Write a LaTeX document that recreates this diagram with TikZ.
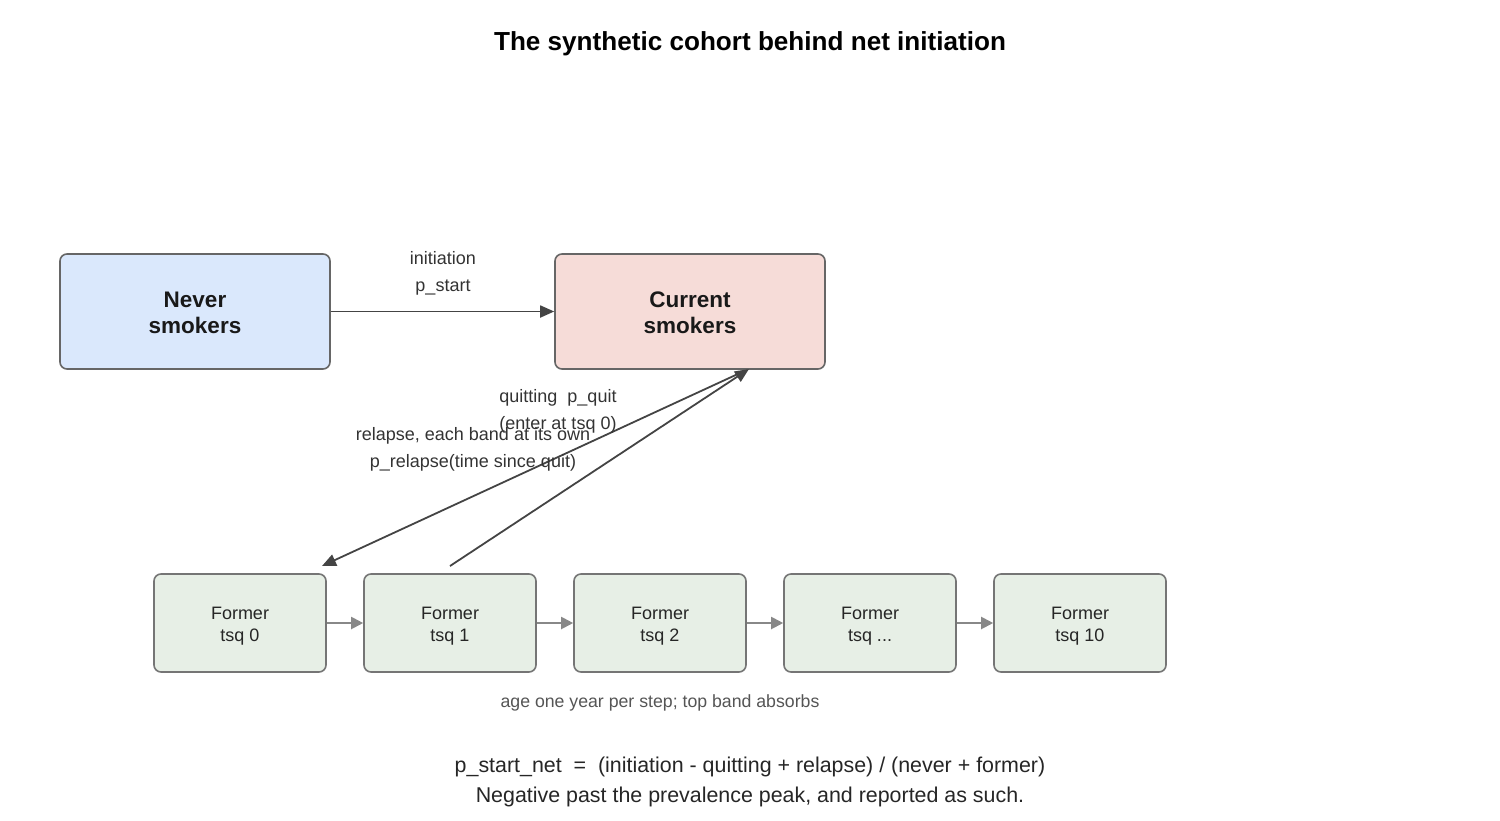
\documentclass[tikz,border=0pt]{standalone}
\usepackage{fontspec}
\setmainfont{Liberation Sans}
\usetikzlibrary{arrows.meta,positioning}

\definecolor{neverfill}{HTML}{DAE8FC}
\definecolor{curfill}{HTML}{F6DCD8}
\definecolor{formfill}{HTML}{E7EFE6}
\definecolor{boxline}{HTML}{666666}
\definecolor{linkdark}{HTML}{444444}
\definecolor{linkgray}{HTML}{888888}
\definecolor{txtdark}{HTML}{333333}
\definecolor{capgray}{HTML}{555555}

\newcommand{\pxsize}[2]{\fontsize{#1}{#2}\selectfont}

\tikzset{
	statebox/.style={draw=boxline, line width=1.6pt, rounded corners=7pt, minimum width=270pt, minimum height=115pt, align=center, font=\pxsize{22.5}{26}\bfseries, text=black!90},
	formerbox/.style={draw=boxline!90, line width=1.6pt, rounded corners=7pt, fill=formfill, minimum width=172pt, minimum height=98pt, align=center, font=\pxsize{18}{22}, text=black!85},
	flow/.style={draw=linkdark, line width=1.8pt, -{Triangle[length=14pt,width=12pt]}},
	agestep/.style={draw=linkgray, line width=2pt, -{Triangle[length=12pt,width=12pt]}},
	lbl/.style={align=center, font=\pxsize{18}{27}, text=txtdark}
}

\begin{document}
\begin{tikzpicture}[x=1pt, y=-1pt, every node/.style={inner sep=0pt}]
	\useasboundingbox (0,0) rectangle (1500,820);
	
	\node[font=\pxsize{26.1}{30}\bfseries] (title) at (750,44) {The synthetic cohort behind net initiation};
	
	\node[statebox, fill=neverfill] (never) at (195,311.5) {\rule{0pt}{19pt}Never\\smokers};
	\node[statebox, fill=curfill] (cur) at (690,311.5) {\rule{0pt}{19pt}Current\\smokers};
	\draw[flow] (never) -- (cur);
	\node[lbl] (initlbl) at (443,273) {initiation\\p\_start};
	
	\foreach \i/\t in {0/0,1/1,2/2,3/{.{}.{}.},4/10}
		\node[formerbox] (f\i) at (240+210*\i,623) {\rule{0pt}{18.5pt}Former\\tsq \t};
	\foreach \i/\j in {0/1,1/2,2/3,3/4}
		\draw[agestep] (f\i) -- (f\j);
	
	\coordinate (quitout) at (450,566);
	\coordinate (quitin) at (749,369);
	\coordinate (relout) at (740,373);
	\coordinate (relin) at (322,566);
	\draw[flow] (quitout) -- (quitin);
	\draw[flow] (relout) -- (relin);
	\node[lbl] (quitlbl) at (558,411) {quitting\ \ p\_quit\\(enter at tsq 0)};
	\node[lbl] (rellbl) at (473,449.5) {relapse, each band at its own\\p\_relapse(time since quit)};
	
	\node[font=\pxsize{17.7}{22}, text=capgray] (agenote) at (660,703) {age one year per step; top band absorbs};
	\node[align=center, font=\pxsize{21.4}{30}, text=black!85] (netnote) at (750,782) {p\_start\_net\ \ =\ \ (initiation - quitting + relapse) / (never + former)\\Negative past the prevalence peak, and reported as such.};
\end{tikzpicture}
\end{document}
